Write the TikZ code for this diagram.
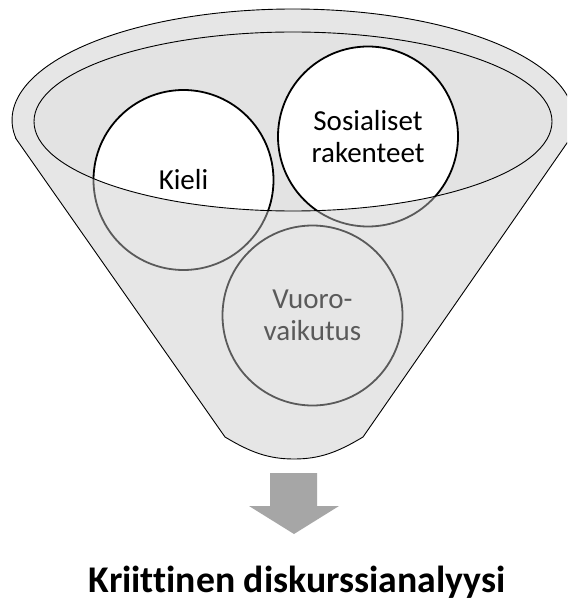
\documentclass[tikz,border=0pt]{standalone}
\usepackage{fontspec}
\setmainfont{Carlito}[Ligatures=NoCommon]
\definecolor{innerfill}{RGB}{227,227,227}
\definecolor{ovl}{RGB}{200,200,200}
\definecolor{arrowgray}{RGB}{166,166,166}
\tikzset{
  topic/.style={circle, draw=black, line width=1.8pt, fill=white, inner sep=0pt,
    minimum size=180pt, align=center, font=\fontsize{29}{32}\selectfont},
  rim/.style={draw=black, line width=0.9pt},
}
\def\funnelpath{(16,138.7) -- (225,437)
  .. controls (250,452) and (268,459) .. (294,459)
  .. controls (320,459) and (338,452) .. (363,437)
  -- (570,138.7) arc[start angle=9.7, end angle=-189.7, x radius=281, y radius=111] -- cycle}
\def\innerpath{(293,121.5) ellipse[x radius=259, y radius=89.5]}
\begin{document}
\begin{tikzpicture}[x=1pt, y=-1pt]
\useasboundingbox (0,0) rectangle (567,601);
\fill[white] (0,0) rectangle (567,601);
\clip (0,0) rectangle (567,601);
% inner ellipse fill
\fill[innerfill] \innerpath;
% circles
\node[topic] (kieli) at (183.5,180) {Kieli};
\node[topic] (sos) at (368,136.5) {Sosialiset\\rakenteet};
\node[topic] (vuoro) at (312.5,315.5) {Vuoro-\\vaikutus};
% translucent funnel body over the circles
\fill[ovl, fill opacity=0.45, even odd rule] \funnelpath \innerpath;
% outlines
\draw[rim] \funnelpath;
\draw[rim] \innerpath;
% arrow
\fill[arrowgray] (270,473) -- (317,473) -- (317,506) -- (339,506) -- (294,534)
  -- (249,506) -- (270,506) -- cycle;
% title
\node[anchor=base, font=\bfseries\fontsize{37.7}{40}\selectfont, inner sep=0pt]
  (title) at (297,592) {Kriittinen diskurssianalyysi};
\end{tikzpicture}
\end{document}
